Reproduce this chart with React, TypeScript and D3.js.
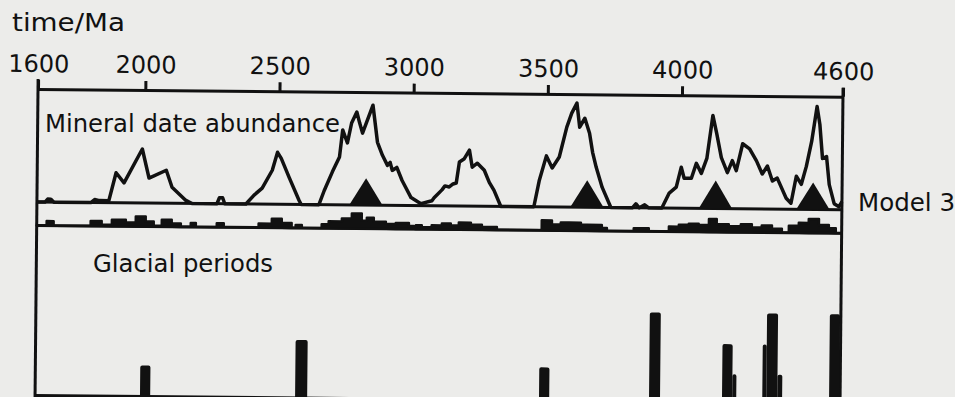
import * as d3 from "d3";
import React, { Component } from "react";

// time axis ticks (Ma)
const tickValues = [1600, 2000, 2500, 3000, 3500, 4000, 4600];

// mineral date abundance curve: age (Ma) and relative abundance
const mineralAge = [
    1600, 1630, 1640, 1652, 1663, 1801, 1815, 1833, 1868, 1894, 1924, 1991, 2017, 2081, 2103, 2155, 2178,
    2271, 2280, 2292, 2300, 2379, 2409, 2439, 2476, 2495, 2509, 2539, 2577, 2585, 2651, 2670, 2700, 2726,
    2737, 2755, 2770, 2789, 2800, 2811, 2849, 2867, 2886, 2905, 2915, 2923, 2940, 2960, 2994, 3031, 3072,
    3080, 3109, 3120, 3136, 3150, 3162, 3173, 3190, 3210, 3221, 3240, 3266, 3285, 3303, 3329, 3452, 3471,
    3497, 3519, 3545, 3572, 3590, 3609, 3620, 3639, 3657, 3669, 3683, 3706, 3739, 3820, 3832, 3845, 3865,
    3880, 3929, 3956, 3982, 4000, 4011, 4038, 4056, 4075, 4095, 4116, 4131, 4149, 4172, 4190, 4205, 4228,
    4254, 4280, 4302, 4321, 4340, 4358, 4392, 4410, 4429, 4448, 4466, 4485, 4504, 4515, 4526, 4541, 4552,
    4571, 4589, 4600
];
const mineralValue = [
    0, 0, 3, 3, 0, 0, 3, 2, 2, 30, 20, 54, 25, 33, 16, 3, 0,
    0, 6, 6, 0, 0, 9, 16, 34, 52, 46, 27, 4, 0, 0, 14, 33, 48,
    75, 62, 82, 93, 82, 72, 100, 63, 50, 40, 43, 35, 38, 25, 8, 2, 5,
    8, 16, 20, 19, 22, 23, 44, 47, 56, 39, 43, 36, 24, 16, 0, 0, 26,
    51, 39, 50, 80, 94, 104, 80, 89, 74, 55, 40, 20, 0, 0, 4, 0, 3,
    0, 0, 15, 21, 41, 30, 30, 45, 35, 50, 93, 75, 51, 36, 48, 38, 65,
    60, 48, 35, 43, 28, 31, 11, 6, 33, 25, 43, 68, 103, 85, 51, 53, 25,
    6, 3, 8
];

// Model 3 peaks (black triangles)
const modelPeakAge = [2826, 3650, 4129, 4492];
const modelPeakValue = [27, 27, 28, 27];
const modelPeakHalfWidth = 62;

// narrow band histogram under the curve (step starts, Ma)
const bandAge = [
    1600, 1637, 1663, 1801, 1842, 1880, 1932, 1969, 2006, 2036, 2066, 2103, 2137, 2174, 2193, 2271, 2297,
    2427, 2476, 2513, 2550, 2565, 2588, 2662, 2688, 2737, 2774, 2811, 2830, 2856, 2901, 2938, 2987, 3005,
    3013, 3035, 3072, 3110, 3143, 3173, 3218, 3259, 3315, 3482, 3520, 3553, 3583, 3628, 3650, 3706, 3725,
    3825, 3881, 3956, 3993, 4030, 4067, 4105, 4134, 4179, 4224, 4265, 4302, 4340, 4377, 4403, 4440, 4477,
    4515, 4552, 4578, 4600
];
const bandValue = [
    0, 4.5, 0, 5, 1.5, 6.5, 4, 10, 5, 1, 7, 3.5, 0, 4, 0, 4, 0,
    4, 9, 5, 0, 3, 0, 4, 7, 10, 15, 8, 11, 7, 5, 6, 3, 0,
    4, 2, 4, 6, 4, 7, 5, 3, 0, 10, 6, 8, 8, 6, 6, 3, 0,
    3, 0, 5, 7, 8, 7, 13, 8, 6, 8, 5, 7, 4, 0, 7, 10, 14,
    8, 5, 0, 0
];

// glacial periods
const glacialStart = [1991, 2569, 3478, 3888, 4160, 4198, 4310, 4325, 4366, 4559];
const glacialEnd = [2029, 2614, 3516, 3929, 4198, 4213, 4325, 4366, 4384, 4597];
const glacialValue = [31, 58, 33, 89, 58, 28, 58, 89, 28, 89];

const INK = "#111111";
const FONT = "'DejaVu Sans', sans-serif";

class MineralChart extends Component<{}, {}> {
    private ref!: SVGSVGElement;

    draw() {
        const svg = d3.select(this.ref);
        svg.selectAll("*").remove();

        const left = 38, right = 843, top = 89;
        const x = d3.scaleLinear().domain([1600, 4600]).range([left, right]);
        const yMin = d3.scaleLinear().domain([0, 113]).range([202, top]);
        const yBand = d3.scaleLinear().domain([0, 23]).range([225.5, 202.5]);
        const yGla = d3.scaleLinear().domain([0, 170]).range([395.5, 225.5]);

        svg.append("rect").attr("width", 955).attr("height", 397).attr("fill", "#ececea");

        // the scan is slightly tilted
        const g = svg.append("g").attr("transform", `rotate(0.55, ${left}, ${top})`);

        const axis = d3.axisTop(x).tickValues(tickValues).tickSize(9).tickSizeOuter(0).tickPadding(8)
            .tickFormat(d => String(d));
        const ax = g.append("g").attr("transform", `translate(0,${top})`).call(axis);
        ax.select(".domain").attr("stroke", INK).attr("stroke-width", 3);
        ax.selectAll(".tick line").attr("stroke", INK).attr("stroke-width", 3);
        ax.selectAll(".tick text").attr("fill", INK).style("font-family", FONT).style("font-size", "24px");

        // frame lines
        g.append("line").attr("x1", left).attr("x2", left).attr("y1", top - 10).attr("y2", 397)
            .attr("stroke", INK).attr("stroke-width", 3);
        g.append("line").attr("x1", right).attr("x2", right).attr("y1", top - 9).attr("y2", 397)
            .attr("stroke", INK).attr("stroke-width", 3);
        [yMin(0), yBand(0), yGla(0)].forEach(yy => {
            g.append("line").attr("x1", left).attr("x2", right).attr("y1", yy).attr("y2", yy)
                .attr("stroke", INK).attr("stroke-width", 3);
        });

        // triangles
        g.selectAll(".peak").data(modelPeakAge).enter().append("path")
            .attr("class", "peak")
            .attr("fill", INK)
            .attr("d", (d, i) => "M" + x(d - modelPeakHalfWidth) + "," + yMin(0)
                + "L" + x(d) + "," + yMin(modelPeakValue[i])
                + "L" + x(d + modelPeakHalfWidth) + "," + yMin(0) + "Z");

        // abundance curve
        const line = d3.line<number>().x((d, i) => x(mineralAge[i])).y(d => yMin(d));
        g.append("path").attr("d", line(mineralValue))
            .attr("fill", "none").attr("stroke", INK).attr("stroke-width", 3.5)
            .attr("stroke-linejoin", "round");

        // band histogram
        const area = d3.area<number>().curve(d3.curveStepAfter)
            .x((d, i) => x(bandAge[i])).y0(yBand(0)).y1(d => yBand(d));
        g.append("path").attr("d", area(bandValue))
            .attr("fill", INK).attr("stroke", INK).attr("stroke-width", 2.5)
            .attr("stroke-linejoin", "round");

        // glacial bars
        g.selectAll(".glacial").data(glacialStart).enter().append("rect")
            .attr("class", "glacial")
            .attr("x", d => x(d))
            .attr("width", (d, i) => x(glacialEnd[i]) - x(d))
            .attr("y", (d, i) => yGla(glacialValue[i]))
            .attr("height", (d, i) => yGla(0) - yGla(glacialValue[i]) + 4)
            .attr("rx", 2)
            .attr("fill", INK);

        const label = (t: string, lx: number, ly: number, len: number) =>
            svg.append("text").attr("x", lx).attr("y", ly).text(t)
                .attr("fill", INK).style("font-family", FONT).style("font-size", "24px")
                .attr("textLength", len).attr("lengthAdjust", "spacingAndGlyphs");

        label("time/Ma", 12, 31, 113);
        label("Mineral date abundance", 45, 132, 295);
        label("Model 3", 858, 211, 97);
        label("Glacial periods", 93, 272, 180);
    }

    componentDidMount() {
        this.draw();
    }

    render() {
        return (
            <svg ref={(ref: SVGSVGElement) => this.ref = ref} width={955} height={397}
                style={{ position: "absolute", left: 0, top: 0 }}></svg>
        );
    }
}

export default function App() {
    return <MineralChart />;
}
